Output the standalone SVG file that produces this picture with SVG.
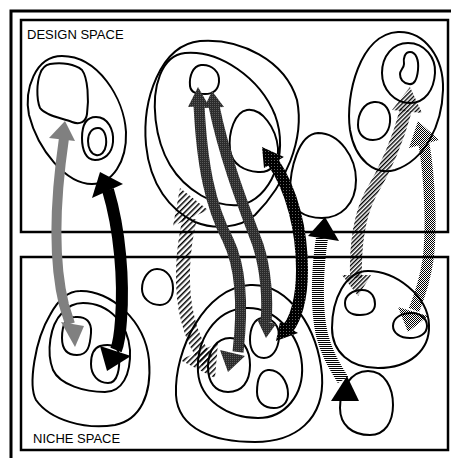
<svg xmlns="http://www.w3.org/2000/svg" width="451" height="458" viewBox="0 0 451 458">
<defs>
<style>
.blob{fill:none;stroke:#000;stroke-width:2}
.frame{fill:none;stroke:#000}
.lbl{font-family:"Liberation Sans",Arial,sans-serif;font-size:13px;fill:#000}
.body{fill:none;stroke-linecap:butt}
</style>
<pattern id="pDark" width="2" height="2" patternUnits="userSpaceOnUse">
<rect width="2" height="2" fill="#2c2c2c"/><rect width="1" height="1" fill="#5a5a5a"/>
</pattern>
<pattern id="pDarker" width="3" height="3" patternUnits="userSpaceOnUse">
<rect width="3" height="3" fill="#000"/><rect x="1" y="1" width="1" height="1" fill="#666"/>
</pattern>
<pattern id="pLight" width="2" height="2" patternUnits="userSpaceOnUse">
<rect width="1" height="1" fill="#000"/><rect x="1" y="1" width="1" height="1" fill="#000"/>
</pattern>
<pattern id="pHatch" width="3" height="3" patternUnits="userSpaceOnUse" patternTransform="rotate(45)">
<rect width="1.4" height="3" fill="#000"/>
</pattern>
<pattern id="pHatchL" width="4" height="4" patternUnits="userSpaceOnUse" patternTransform="rotate(45)">
<rect width="1.5" height="4" fill="#000"/>
</pattern>
<pattern id="pHoriz" width="4" height="2" patternUnits="userSpaceOnUse">
<rect width="4" height="1" fill="#000"/>
</pattern>
</defs>
<rect width="451" height="458" fill="#fff"/>
<g id="frame">
<rect class="frame" x="11" y="11" width="460" height="470" stroke-width="3"/>
<rect class="frame" x="21" y="20" width="427" height="212" stroke-width="2.5"/>
<rect class="frame" x="21" y="257" width="427" height="193" stroke-width="2.5"/>
<text class="lbl" x="27" y="39">DESIGN SPACE</text>
<text class="lbl" x="33" y="443">NICHE SPACE</text>
</g>
<g id="design-left">
<path class="blob" d="M62,56 C98,56 124,98 126,132 C127,162 112,184 92,184 C66,184 38,150 29,115 C24,90 35,56 62,56 Z"/>
<path class="blob" d="M50,64 C62,62 75,64 82,70 C88,78 89,100 87,114 C86,122 80,125 72,122 C62,118 46,116 40,108 C36,98 37,82 40,74 C42,68 45,65 50,64 Z"/>
<path class="blob" d="M96,117 C108,117 114,130 113,142 C112,154 104,160 95,160 C86,160 82,150 82,138 C82,126 86,117 96,117 Z"/>
<path class="blob" d="M98,128 C104,128 107,136 106,145 C105,152 101,156 96,155 C91,154 88,148 88,141 C88,133 92,128 98,128 Z"/>
</g>
<g id="design-middle">
<path class="blob" d="M200,41 C240,38 285,60 297,100 C305,140 285,185 255,215 C240,228 215,230 195,222 C170,210 150,185 146,145 C142,100 160,45 200,41 Z"/>
<path class="blob" d="M185,53 C220,50 260,78 275,115 C290,155 270,200 240,205 C215,208 185,190 170,165 C155,140 150,100 160,75 C166,60 175,54 185,53 Z"/>
<path class="blob" d="M201,65 C212,64 220,72 219,82 C218,90 214,94 205,94 C197,94 191,93 190,86 C189,76 193,66 201,65 Z"/>
<path class="blob" d="M247,110 C262,108 276,128 278,148 C279,165 270,173 258,172 C245,171 232,165 230,150 C228,132 235,112 247,110 Z"/>
</g>
<g id="design-c">
<path class="blob" d="M318,133 C340,133 356,158 356,180 C356,205 340,218 322,218 C305,218 290,210 290,192 C290,170 298,134 318,133 Z"/>
</g>
<g id="design-right">
<path class="blob" d="M398,32 C425,31 444,58 443,90 C442,125 425,160 395,170 C375,176 355,160 350,130 C345,95 360,34 398,32 Z"/>
<path class="blob" d="M408,43 C425,43 436,58 435,73 C434,90 425,103 410,103 C395,103 382,90 382,73 C382,56 393,43 408,43 Z"/>
<path class="blob" d="M410,52 C416,52 419,60 418,70 C417,80 414,85 409,84 C403,83 400,79 400,74 C400,70 404,68 404,64 C403,58 405,52 410,52 Z"/>
<path class="blob" d="M374,102 C386,101 391,112 390,122 C389,133 382,140 373,140 C363,140 358,133 358,125 C358,113 364,103 374,102 Z"/>
</g>
<g id="niche-left">
<path class="blob" d="M80,291 C110,290 145,320 149,360 C152,395 140,420 115,425 C85,430 50,420 36,400 C28,385 35,340 50,315 C58,300 68,291 80,291 Z"/>
<path class="blob" d="M83,303 C110,303 128,325 130,350 C131,375 122,392 105,392 C85,392 60,385 53,370 C46,352 50,325 62,313 C68,306 76,303 83,303 Z"/>
<path class="blob" d="M75,317 C86,316 92,322 91,333 C90,346 88,355 77,355 C66,355 62,348 62,338 C62,325 66,317 75,317 Z"/>
<path class="blob" d="M100,346 C108,344 118,344 119,355 C120,368 118,383 108,383 C98,383 91,375 91,364 C91,355 94,348 100,346 Z"/>
</g>
<g id="niche-small">
<path class="blob" d="M157,269 C167,269 173,278 173,288 C173,298 168,305 160,305 C150,305 142,298 142,289 C142,278 149,269 157,269 Z"/>
</g>
<g id="niche-middle">
<path class="blob" d="M250,285 C290,283 318,330 322,375 C325,420 295,442 255,442 C215,442 178,430 176,395 C174,350 205,287 250,285 Z"/>
<path class="blob" d="M245,308 C275,306 300,335 302,365 C304,395 285,418 258,418 C228,418 200,400 198,372 C196,340 215,310 245,308 Z"/>
<path class="blob" d="M230,338 C243,338 250,350 250,365 C250,382 242,392 228,392 C215,392 208,382 208,367 C208,350 217,338 230,338 Z"/>
<path class="blob" d="M262,318 C272,317 280,326 279,338 C278,350 272,358 264,358 C255,358 250,350 250,340 C250,328 254,319 262,318 Z"/>
<path class="blob" d="M268,370 C280,369 288,382 288,394 C288,403 282,408 274,408 C264,408 257,402 257,392 C257,380 260,371 268,370 Z"/>
</g>
<g id="niche-right">
<path class="blob" d="M368,271 C395,271 428,295 429,325 C430,350 410,368 378,368 C350,368 332,352 332,328 C332,300 345,271 368,271 Z"/>
<path class="blob" d="M362,290 C372,290 375,298 375,304 C375,312 368,315 360,315 C350,315 345,310 345,303 C345,296 352,290 362,290 Z"/>
<path class="blob" d="M412,313 C422,313 427,320 427,326 C427,334 419,338 410,338 C400,338 393,333 393,326 C393,318 401,313 412,313 Z"/>
</g>
<g id="niche-bottom">
<path class="blob" d="M368,371 C385,371 393,388 393,405 C393,422 385,435 370,435 C352,435 340,425 340,408 C340,390 350,371 368,371 Z"/>
</g>
<g id="connectors">
<g id="arrow-grey">
<path class="body" d="M64,138 C55,200 53,260 64,305 L70,324" stroke="#808080" stroke-width="10"/>
<polygon points="65,121 49,138 75,141" fill="#808080"/>
<polygon points="75,347 61,322 84,326" fill="#808080"/>
</g>
<g id="arrow-black">
<path class="body" d="M108,190 C120,230 124,280 121,320 C120,335 118,345 116,350" stroke="#000" stroke-width="12"/>
<polygon points="100,172 92,198 123,184" fill="#000"/>
<polygon points="107,371 100,346 131,356" fill="#000"/>
</g>
<g id="arrow-m1">
<path class="body" d="M199,105 C202,165 210,205 228,240 C240,265 244,300 238,352" stroke="url(#pDark)" stroke-width="11"/>
<polygon points="198,87 188,107 209,106" fill="url(#pDark)"/>
<polygon points="228,372 220,350 245,356" fill="url(#pDark)"/>
</g>
<g id="arrow-m2">
<path class="body" d="M214,106 C225,160 245,210 258,245 C266,270 268,300 266,322" stroke="url(#pDark)" stroke-width="11"/>
<polygon points="212,91 204,108 224,107" fill="url(#pDark)"/>
<polygon points="266,338 257,319 276,324" fill="url(#pDark)"/>
</g>
<g id="arrow-n">
<path class="body" d="M273,162 C292,190 302,230 302,270 C302,300 295,320 288,328" stroke="url(#pDarker)" stroke-width="12"/>
<polygon points="262,147 264,168 284,157" fill="url(#pDarker)"/>
<polygon points="276,341 280,322 298,333" fill="url(#pDarker)"/>
</g>
<g id="arrow-p">
<path class="body" d="M322,238 C317,270 316,310 322,335 C327,355 336,368 343,380" stroke="url(#pHoriz)" stroke-width="12"/>
<polygon points="325,217 308,236 339,241" fill="#000"/>
<polygon points="347,376 331,401 359,401" fill="#000"/>
</g>
<g id="arrow-q">
<path class="body" d="M190,218 C182,250 180,290 188,320 C193,340 200,352 208,362" stroke="url(#pHatchL)" stroke-width="14"/>
<polygon points="180,188 173,226 208,210" fill="url(#pHatchL)"/>
<polygon points="180,360 218,343 215,378" fill="url(#pHatchL)"/>
</g>
<g id="arrow-r">
<path class="body" d="M406,110 C398,140 385,170 370,195 C360,215 355,240 356,278" stroke="url(#pHatch)" stroke-width="12"/>
<polygon points="410,87 392,110 422,113" fill="url(#pHatch)"/>
<polygon points="358,296 342,275 371,275" fill="url(#pHatch)"/>
</g>
<g id="arrow-s">
<path class="body" d="M424,144 C430,180 432,230 428,260 C425,280 420,295 414,310" stroke="url(#pLight)" stroke-width="11"/>
<polygon points="418,121 409,148 439,140" fill="url(#pLight)"/>
<polygon points="408,332 398,307 428,316" fill="url(#pLight)"/>
</g>
</g>
</svg>
